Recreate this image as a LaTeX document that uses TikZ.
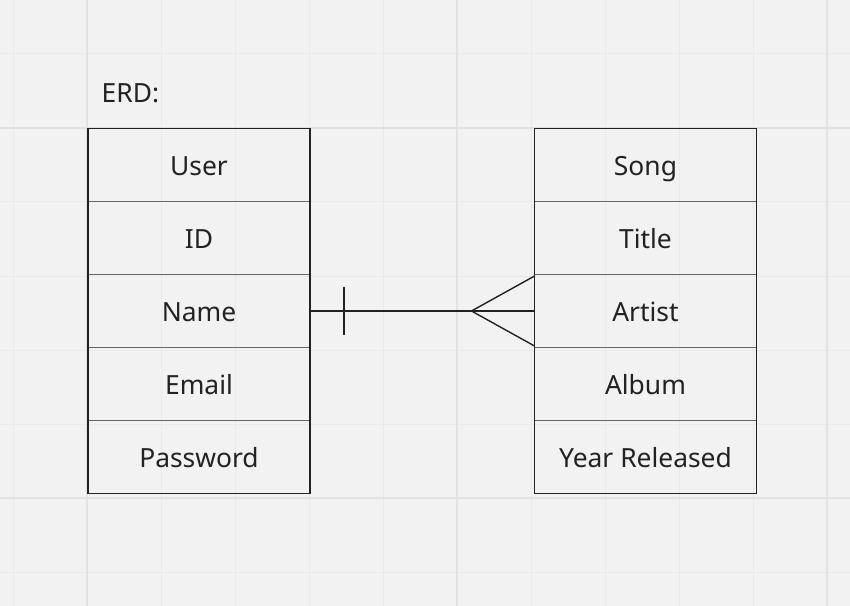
\documentclass[tikz,border=0pt]{standalone}
\usepackage{fontspec}
\setmainfont{Noto Sans}
\usetikzlibrary{positioning}

\definecolor{canvas}{HTML}{F2F2F2}
\definecolor{gridminor}{HTML}{EAEAEA}
\definecolor{gridmajor}{HTML}{E2E2E2}
\definecolor{ink}{HTML}{222222}
\definecolor{rule}{HTML}{666666}

\tikzset{
  field/.style={draw=rule, line width=0.6bp, minimum width=222bp, minimum height=73bp,
    inner sep=0pt, outer sep=0pt, text height=21bp, text depth=0pt, text=ink,
    font=\fontsize{26.5}{32}\selectfont},
  border/.style={ink, line width=1.3bp},
  link/.style={ink, line width=1.4bp},
}

\begin{document}
\begin{tikzpicture}[x=1bp,y=-1bp]
	\fill[canvas] (0,0) rectangle (850,606);
	\useasboundingbox (0,0) rectangle (850,606);

	% grid
	\foreach \gx in {13,161,235,309,383,531,605,679,753}
		\draw[gridminor, line width=1bp] (\gx,0) -- (\gx,606);
	\foreach \gy in {54,202,276,350,424,572}
		\draw[gridminor, line width=1bp] (0,\gy) -- (850,\gy);
	\foreach \gx in {87,457,827}
		\draw[gridmajor, line width=2bp] (\gx,0) -- (\gx,606);
	\foreach \gy in {128,498}
		\draw[gridmajor, line width=2bp] (0,\gy) -- (850,\gy);

	\node[anchor=base west, inner sep=0pt, text=ink, font=\fontsize{26.5}{32}\selectfont] (erd) at (101.5,103) {ERD:};

	% User table
	\node[field] (user) at (199,165) {User};
	\node[field, below=0pt of user] (id) {ID};
	\node[field, below=0pt of id] (name) {Name};
	\node[field, below=0pt of name] (email) {Email};
	\node[field, below=0pt of email] (password) {Password};
	\draw[border] (user.north west) rectangle (password.south east);

	% Song table
	\node[field] (song) at (645.5,165) {Song};
	\node[field, below=0pt of song] (title) {Title};
	\node[field, below=0pt of title] (artist) {Artist};
	\node[field, below=0pt of artist] (album) {Album};
	\node[field, below=0pt of album] (year) {Year Released};
	\draw[border] (song.north west) rectangle (year.south east);

	% one user -- many songs
	\draw[link] (name.east) -- (artist.west);
	\draw[link] ([xshift=34bp, yshift=24bp]name.east) -- ([xshift=34bp, yshift=-24bp]name.east);
	\draw[link] ([yshift=35bp]artist.west) -- ([xshift=-63bp]artist.west) -- ([yshift=-35bp]artist.west);
\end{tikzpicture}
\end{document}
